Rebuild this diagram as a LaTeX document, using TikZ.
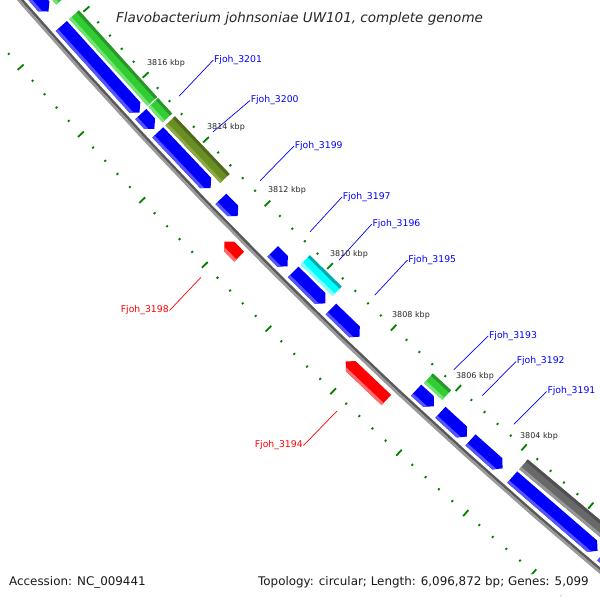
\documentclass[tikz,border=0pt]{standalone}
\usepackage{fontspec}
\setmainfont{DejaVu Sans}
\usepackage{tikz}
\usetikzlibrary{calc}
\usepackage{xcolor}

\definecolor{cdsBlue}{RGB}{0,0,250}
\definecolor{cdsBlueLight}{RGB}{85,85,255}
\definecolor{cdsRed}{RGB}{255,0,0}
\definecolor{cdsRedLight}{RGB}{255,110,110}
\definecolor{cogGreen}{RGB}{50,205,50}
\definecolor{cogGreenLight}{RGB}{115,228,115}
\definecolor{cogGreenDark}{RGB}{40,150,40}
\definecolor{cogOlive}{RGB}{107,142,35}
\definecolor{cogOliveLight}{RGB}{140,168,72}
\definecolor{cogOliveDark}{RGB}{80,105,30}
\definecolor{cogCyan}{RGB}{0,255,255}
\definecolor{cogCyanLight}{RGB}{130,255,255}
\definecolor{cogCyanDark}{RGB}{0,170,170}
\definecolor{cogGray}{RGB}{105,105,105}
\definecolor{cogGrayLight}{RGB}{150,150,150}
\definecolor{cogGrayDark}{RGB}{80,80,80}
\definecolor{tickGreen}{RGB}{0,128,0}

% angle on the genome circle for a position along the view (px)
\pgfmathdeclarefunction{ang}{1}{\pgfmathparse{139.06-(#1)/90.46}}

\begin{document}
\begin{tikzpicture}[%
    x=1pt, y=-1pt,
    tick/.style={tickGreen, line width=1.8pt},
    kbp/.style={
      font=\fontsize{8}{9}\selectfont,
      text=black!85,
      inner sep=0pt
    },
    fwdName/.style={
      font=\fontsize{9.3}{10}\selectfont,
      text=blue,
      inner sep=0.6pt,
      anchor=west
    },
    revName/.style={
      font=\fontsize{9.3}{10}\selectfont,
      text=red,
      inner sep=0.6pt,
      anchor=east
    },
    fwdLine/.style={blue, line width=0.7pt},
    revLine/.style={red, line width=0.7pt},
    caption/.style={
      font=\fontsize{11.9}{14}\selectfont,
      text=black!90,
      inner sep=1pt
    }
  ]
    \useasboundingbox (0,0) rectangle (600,600);
    \clip (0,0) rectangle (600,600);

    \begin{scope}[shift={(3935.2,-3396.5)}]
    % Ruler ticks, outer and inner
    \foreach \k in {-4,...,48}{
      \pgfmathsetmacro\tpos{51+17.86*\k}
      \pgfmathsetmacro\tlen{mod(\k,5)==0 ? 4 : 1.1}
      \draw[tick] ({ang(\tpos)}:{5139.5-\tlen}) -- ({ang(\tpos)}:{5139.5+\tlen});
      \draw[tick] ({ang(\tpos)}:{5227.3-\tlen}) -- ({ang(\tpos)}:{5227.3+\tlen});
    }

    % Backbone
    \draw[black!65, line width=2.6pt] plot[domain=128:140.5, samples=60] (\x:5181.7);
    \draw[black!40, line width=2.6pt] plot[domain=128:140.5, samples=60] (\x:5184.3);

    % Forward strand genes
    \foreach \s/\e in {-80/27.6, 47/164, 166/186, 191/268, 283/307, 357/378, 386/431,
                       439/479, 557/581, 590/626, 631/674, 687/800, 806/950}{
      \fill[cdsBlue] ({ang(\s)}:5177) -- ({ang(\e-7)}:5177) -- ({ang(\e)}:5169.5)
        -- ({ang(\e-7)}:5162) -- ({ang(\s)}:5162) -- cycle;
      \fill[cdsBlueLight] ({ang(\s)}:5177) -- ({ang(\e-7)}:5177) -- ({ang(\e-4.2)}:5174)
        -- ({ang(\s)}:5174) -- cycle;
    }

    % Reverse strand genes
    \foreach \s/\e in {316/337, 486/542}{
      \fill[cdsRed] ({ang(\s)}:5197) -- ({ang(\s+7)}:5190) -- ({ang(\e)}:5190)
        -- ({ang(\e)}:5204) -- ({ang(\s+7)}:5204) -- cycle;
      \fill[cdsRedLight] ({ang(\s+7)}:5204) -- ({ang(\e)}:5204) -- ({ang(\e)}:5201)
        -- ({ang(\s+4)}:5201) -- cycle;
    }

    % COG ring
    \foreach \s/\e/\col in {-80/27.6/cogGreen, 47/164.5/cogGreen, 166/187/cogGreen,
                            191/271/cogOlive, 386/431/cogCyan, 558/583/cogGreen, 687/950/cogGray}{
      \fill[\col] ({ang(\s)}:5146) -- ({ang(\e)}:5146) -- ({ang(\e)}:5159) -- ({ang(\s)}:5159) -- cycle;
      \fill[\col Light] ({ang(\s)}:5156) -- ({ang(\e)}:5156) -- ({ang(\e)}:5159) -- ({ang(\s)}:5159) -- cycle;
      \fill[\col Dark] ({ang(\s)}:5146) -- ({ang(\e)}:5146) -- ({ang(\e)}:5149) -- ({ang(\s)}:5149) -- cycle;
    }

    % Label ends
    \foreach \n/\t in {3201/179, 3200/228.8, 3199/297.4, 3197/369.5, 3196/410.5,
                       3195/461, 3193/570.9, 3192/609.8, 3191/652.9}
      \coordinate (e\n) at ({ang(\t)}:5129);
    \foreach \n/\t in {3198/325, 3194/513.7}
      \coordinate (e\n) at ({ang(\t)}:5239);
    \end{scope}

    % Gene labels
    \foreach \n/\x/\y in {3201/213.3/60, 3200/250/100.5, 3199/294/146, 3197/342/197,
                          3196/371.7/224.2, 3195/407.5/260, 3193/488.3/335.9,
                          3192/516/361.5, 3191/546.7/391.5}{
      \node[fwdName] (n\n) at (\x,\y) {Fjoh\_\n};
      \draw[fwdLine] (n\n.west) -- (e\n);
    }
    \foreach \n/\x/\y in {3198/169.5/310.5, 3194/303.5/445.5}{
      \node[revName] (n\n) at (\x,\y) {Fjoh\_\n};
      \draw[revLine] (n\n.east) -- (e\n);
    }

    % Ruler labels
    \foreach \k/\x/\y in {3816/166/63, 3814/226/127, 3812/287/190, 3810/349/254,
                          3808/411/315.5, 3806/475/376.5, 3804/539/436.5}
      \node[kbp] (kbp\k) at (\x,\y) {\k\ kbp};

    % Title, legend strip and captions
    \node[font=\fontsize{13.5}{15}\selectfont\itshape, text=black!85] (title) at (299.5,18.5)
      {Flavobacterium johnsoniae UW101, complete genome};
    \fill[white, opacity=0.82] (0,574) rectangle (600,600);
    \node[caption, anchor=west] (accession) at (8,582.5) {Accession: NC\_009441};
    \node[caption, anchor=east] (topology) at (590,582.5)
      {Topology: circular; Length: 6,096,872 bp; Genes: 5,099};
\end{tikzpicture}
\end{document}
